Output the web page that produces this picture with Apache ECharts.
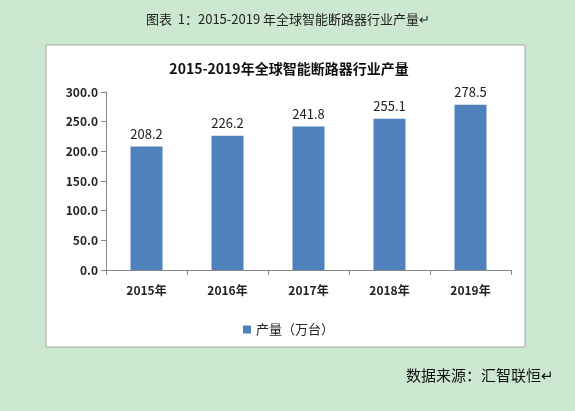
<!DOCTYPE html>
<html lang="zh">
<head>
  <meta charset="utf-8">
  <script src="https://cdn.jsdelivr.net/npm/echarts@6/dist/echarts.min.js"></script>
</head>
<body style="margin:0; width:575px; height:411px; overflow:hidden">
  <div id="container" style="width:575px; height:411px"></div>
  <script type="text/javascript">
var years = ['2015年', '2016年', '2017年', '2018年', '2019年'];
var output = [208.2, 226.2, 241.8, 255.1, 278.5];
var seriesName = '产量（万台）';
var yTicks = [0, 50, 100, 150, 200, 250, 300];

var FONT = '"Noto Sans CJK SC", "Noto Sans", sans-serif';

var myChart = echarts.init(document.getElementById('container'), null, { renderer: 'canvas' });

var option = {
  backgroundColor: '#cde8d0',
  textStyle: { fontFamily: FONT },
  title: [
    {
      text: '图表  1：2015-2019 年全球智能断路器行业产量↵',
      left: 283,
      textAlign: 'center',
      top: 8,
      textStyle: { fontSize: 13, fontWeight: 'normal', color: '#222', fontFamily: FONT }
    },
    {
      text: '2015-2019年全球智能断路器行业产量',
      left: 284,
      textAlign: 'center',
      top: 57,
      textStyle: { fontSize: 14, fontWeight: 'bold', color: '#111', fontFamily: FONT }
    },
    {
      text: '数据来源：汇智联恒↵',
      left: 401,
      top: 363,
      textStyle: { fontSize: 15, fontWeight: 'normal', color: '#111', fontFamily: FONT }
    }
  ],
  graphic: [
    {
      type: 'rect',
      z: -10,
      shape: { x: 46, y: 45, width: 479, height: 302 },
      style: { fill: '#ffffff', stroke: '#a6a6a6', lineWidth: 1 }
    }
  ],
  legend: {
    data: [seriesName],
    left: 238,
    top: 318,
    icon: 'rect',
    itemWidth: 8,
    itemHeight: 8,
    itemGap: 4,
    textStyle: { fontSize: 13, color: '#222', fontFamily: FONT }
  },
  grid: { left: 106, right: 64, top: 92, bottom: 141 },
  xAxis: {
    type: 'category',
    data: years,
    axisLine: { lineStyle: { color: '#888' } },
    axisTick: { show: true, alignWithLabel: false, lineStyle: { color: '#888' } },
    axisLabel: { fontSize: 12, fontWeight: 'bold', color: '#222', margin: 14, fontFamily: FONT }
  },
  yAxis: {
    type: 'value',
    min: yTicks[0],
    max: yTicks[yTicks.length - 1],
    interval: 50,
    splitLine: { show: false },
    axisLine: { show: true, lineStyle: { color: '#888' } },
    axisTick: { show: true, lineStyle: { color: '#888' } },
    axisLabel: {
      fontSize: 12, fontWeight: 'bold', color: '#222', margin: 8, fontFamily: FONT,
      formatter: function (v) { return v.toFixed(1); }
    }
  },
  series: [
    {
      name: seriesName,
      type: 'bar',
      data: output,
      barWidth: 32,
      itemStyle: { color: '#4f81bd' },
      label: {
        show: true,
        position: 'top',
        distance: 6,
        fontSize: 13,
        color: '#222',
        fontFamily: FONT,
        formatter: function (p) { return p.value.toFixed(1); }
      }
    }
  ]
};

myChart.setOption(option);
  </script>
</body>
</html>
